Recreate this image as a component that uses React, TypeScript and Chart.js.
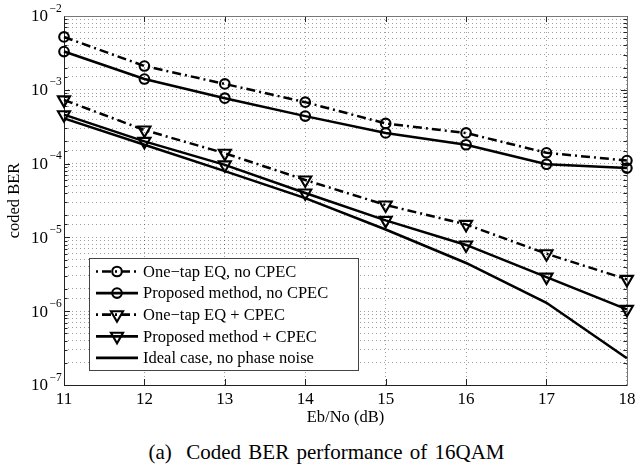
import React, { useEffect, useRef } from 'react';
import { Chart, registerables } from 'chart.js';

Chart.register(...registerables);

// ---------- data ----------
const ebNo = [11, 12, 13, 14, 15, 16, 17, 18];
const oneTapNoCpec = [5.2e-3, 2.1e-3, 1.2e-3, 6.8e-4, 3.5e-4, 2.6e-4, 1.4e-4, 1.1e-4];
const proposedNoCpec = [3.3e-3, 1.4e-3, 7.7e-4, 4.4e-4, 2.6e-4, 1.8e-4, 9.8e-5, 8.7e-5];
const oneTapCpec = [7.3e-4, 2.85e-4, 1.38e-4, 6.0e-5, 2.75e-5, 1.5e-5, 6.0e-6, 2.7e-6];
const proposedCpec = [4.6e-4, 2.0e-4, 9.6e-5, 4.0e-5, 1.7e-5, 7.9e-6, 2.9e-6, 1.06e-6];
const idealCase = [4.1e-4, 1.8e-4, 7.9e-5, 3.4e-5, 1.28e-5, 4.5e-6, 1.3e-6, 2.3e-7];

const seriesLabels = [
  'One\u2212tap EQ, no CPEC',
  'Proposed method, no CPEC',
  'One\u2212tap EQ + CPEC',
  'Proposed method + CPEC',
  'Ideal case, no phase noise',
];

const xMin = 11;
const xMax = 18;
const yMin = 1e-7;
const yMax = 1e-2;
const xTitle = 'Eb/No (dB)';
const yTitle = 'coded BER';
const caption = '(a)\u00a0 Coded BER performance of 16QAM';

// ---------- styles ----------
const FONT = "'Liberation Serif', 'Times New Roman', serif";
const DASH_DOT = [9, 4, 2, 4];
const GRID_COLOR = 'rgba(0,0,0,0.38)';

const isDecade = (v: number) => Math.abs(Math.log10(v) - Math.round(Math.log10(v))) < 1e-6;

const pts = (arr: number[]) => ebNo.map((x, i) => ({ x, y: arr[i] }));

function drawMarker(ctx: CanvasRenderingContext2D, style: string, rotationDeg: number, r: number, x: number, y: number) {
  ctx.beginPath();
  if (style === 'circle') {
    ctx.arc(x, y, r, 0, Math.PI * 2);
  } else {
    let rad = (rotationDeg * Math.PI) / 180;
    for (let k = 0; k < 3; k++) {
      const px = x + Math.sin(rad) * r;
      const py = y - Math.cos(rad) * r;
      if (k === 0) ctx.moveTo(px, py);
      else ctx.lineTo(px, py);
      rad += (2 * Math.PI) / 3;
    }
    ctx.closePath();
  }
  ctx.stroke();
}

const decorPlugin = {
  id: 'decor',
  beforeDatasetsDraw(chart: any) {
    const { ctx, chartArea } = chart;
    const { left, right, top, bottom } = chartArea;
    const xs = chart.scales.x;
    const ys = chart.scales.y;
    ctx.save();
    ctx.setLineDash([]);
    ctx.lineWidth = 1;
    ctx.strokeStyle = '#222';
    ctx.beginPath();
    xs.ticks.forEach((t: any) => {
      const px = Math.round(xs.getPixelForValue(t.value)) + 0.5;
      ctx.moveTo(px, bottom);
      ctx.lineTo(px, bottom - 6);
      ctx.moveTo(px, top);
      ctx.lineTo(px, top + 6);
    });
    ys.ticks.forEach((t: any) => {
      const py = Math.round(ys.getPixelForValue(t.value)) + 0.5;
      const len = isDecade(t.value) ? 6 : 3.5;
      ctx.moveTo(left, py);
      ctx.lineTo(left + len, py);
      ctx.moveTo(right, py);
      ctx.lineTo(right - len, py);
    });
    ctx.stroke();
    ctx.strokeStyle = '#222';
    ctx.beginPath();
    ctx.moveTo(Math.round(left) + 0.5, Math.round(top) + 0.5);
    ctx.lineTo(Math.round(left) + 0.5, Math.round(bottom) + 0.5);
    ctx.lineTo(Math.round(right) + 0.5, Math.round(bottom) + 0.5);
    ctx.stroke();
    ctx.strokeStyle = '#777';
    ctx.beginPath();
    ctx.moveTo(Math.round(left) + 0.5, Math.round(top) + 0.5);
    ctx.lineTo(Math.round(right) + 0.5, Math.round(top) + 0.5);
    ctx.lineTo(Math.round(right) + 0.5, Math.round(bottom) + 0.5);
    ctx.stroke();
    ctx.restore();
  },
  afterDraw(chart: any) {
    const { ctx } = chart;
    const ys = chart.scales.y;
    ctx.save();
    ctx.setLineDash([]);
    ctx.fillStyle = '#000';
    ys.ticks.forEach((t: any) => {
      if (!isDecade(t.value)) return;
      const py = ys.getPixelForValue(t.value);
      const e = Math.round(Math.log10(t.value));
      ctx.font = `17px ${FONT}`;
      ctx.textAlign = 'right';
      ctx.textBaseline = 'middle';
      ctx.fillText('10', 48, py + 1);
      ctx.font = `11.5px ${FONT}`;
      ctx.textAlign = 'left';
      ctx.fillText((e < 0 ? '\u2212' : '') + Math.abs(e), 49.5, py - 7.5);
    });

    const bx = 89, by = 258, bw = 269, bh = 112;
    ctx.fillStyle = '#fff';
    ctx.fillRect(bx, by, bw, bh);
    ctx.strokeStyle = '#444';
    ctx.lineWidth = 1;
    ctx.strokeRect(bx + 0.5, by + 0.5, bw, bh);
    chart.data.datasets.forEach((ds: any, i: number) => {
      const y = by + 13.5 + i * 21.6;
      const x0 = 96, x1 = 138, xm = 117;
      ctx.save();
      ctx.strokeStyle = '#000';
      ctx.lineWidth = 2.7;
      if (ds.borderDash && ds.borderDash.length) {
        ctx.setLineDash(ds.borderDash);
        ctx.lineDashOffset = ds.borderDash[0] + ds.borderDash[1];
      } else {
        ctx.setLineDash([]);
      }
      ctx.beginPath();
      ctx.moveTo(x0, y);
      ctx.lineTo(x1, y);
      ctx.stroke();
      ctx.restore();
      if (ds.pointRadius > 0) {
        ctx.save();
        ctx.setLineDash([]);
        ctx.strokeStyle = '#000';
        ctx.lineWidth = ds.pointBorderWidth;
        drawMarker(ctx, ds.pointStyle, ds.pointRotation || 0, ds.pointRadius, xm, y);
        ctx.restore();
      }
      ctx.fillStyle = '#000';
      ctx.font = `16.5px ${FONT}`;
      ctx.textAlign = 'left';
      ctx.textBaseline = 'middle';
      ctx.fillText(ds.label, 143, y + 1);
    });
    ctx.restore();
  },
};

export default function App() {
  const canvasRef = useRef<HTMLCanvasElement | null>(null);

  useEffect(() => {
    const canvas = canvasRef.current;
    if (!canvas) return;
    const common = {
      borderColor: '#000',
      borderWidth: 2.5,
      pointBorderColor: '#000',
      pointBackgroundColor: 'rgba(0,0,0,0)',
      pointBorderWidth: 2.1,
      tension: 0,
      clip: false,
    };
    const chart = new Chart(canvas, {
      type: 'line',
      data: {
        datasets: [
          { ...common, label: seriesLabels[0], data: pts(oneTapNoCpec), borderDash: DASH_DOT, pointStyle: 'circle', pointRadius: 4.8 },
          { ...common, label: seriesLabels[1], data: pts(proposedNoCpec), borderDash: [], pointStyle: 'circle', pointRadius: 4.8 },
          { ...common, label: seriesLabels[2], data: pts(oneTapCpec), borderDash: DASH_DOT, pointStyle: 'triangle', pointRotation: 180, pointRadius: 7 },
          { ...common, label: seriesLabels[3], data: pts(proposedCpec), borderDash: [], pointStyle: 'triangle', pointRotation: 180, pointRadius: 7 },
          { ...common, label: seriesLabels[4], data: pts(idealCase), borderDash: [], pointStyle: 'circle', pointRadius: 0 },
        ] as any,
      },
      options: {
        animation: false,
        responsive: false,
        layout: { padding: { left: 0, right: 6, top: 16, bottom: 0 } },
        plugins: { legend: { display: false }, tooltip: { enabled: false }, title: { display: false } },
        scales: {
          x: {
            type: 'linear',
            min: xMin,
            max: xMax,
            ticks: { stepSize: 1, color: '#000', font: { family: FONT, size: 17 }, padding: 4, maxRotation: 0, autoSkip: false },
            grid: { color: GRID_COLOR, lineWidth: 1, drawTicks: false },
            border: { display: false, dash: [1, 3] },
            title: { display: true, text: xTitle, color: '#000', font: { family: FONT, size: 16.5 }, padding: { top: 0, bottom: 2 } },
            afterFit: (s: any) => { s.height = 45; s.paddingLeft = 0; s.paddingRight = 0; },
          },
          y: {
            type: 'logarithmic',
            min: yMin,
            max: yMax,
            ticks: { display: false, autoSkip: false },
            grid: { color: GRID_COLOR, lineWidth: 1, drawTicks: false },
            border: { display: false, dash: [1, 3] },
            title: { display: true, text: yTitle, color: '#000', font: { family: FONT, size: 16.5 }, padding: { top: 5, bottom: 0 } },
            afterFit: (s: any) => { s.width = 64; s.paddingTop = 0; s.paddingBottom = 0; },
          },
        },
      } as any,
      plugins: [decorPlugin],
    });
    return () => chart.destroy();
  }, []);

  return (
    <div style={{ position: 'fixed', left: 0, top: 0, width: 636, height: 470, background: '#fff' }}>
      <canvas ref={canvasRef} width={636} height={430} style={{ position: 'absolute', left: 0, top: 0, width: 636, height: 430 }} />
      <div
        style={{
          position: 'absolute',
          left: 0,
          top: 440,
          width: 636,
          paddingLeft: 17,
          boxSizing: 'border-box',
          textAlign: 'center',
          fontFamily: FONT,
          fontSize: 21,
          lineHeight: '24px',
          wordSpacing: 2,
          color: '#000',
          whiteSpace: 'pre',
        }}
      >
        {caption}
      </div>
    </div>
  );
}
